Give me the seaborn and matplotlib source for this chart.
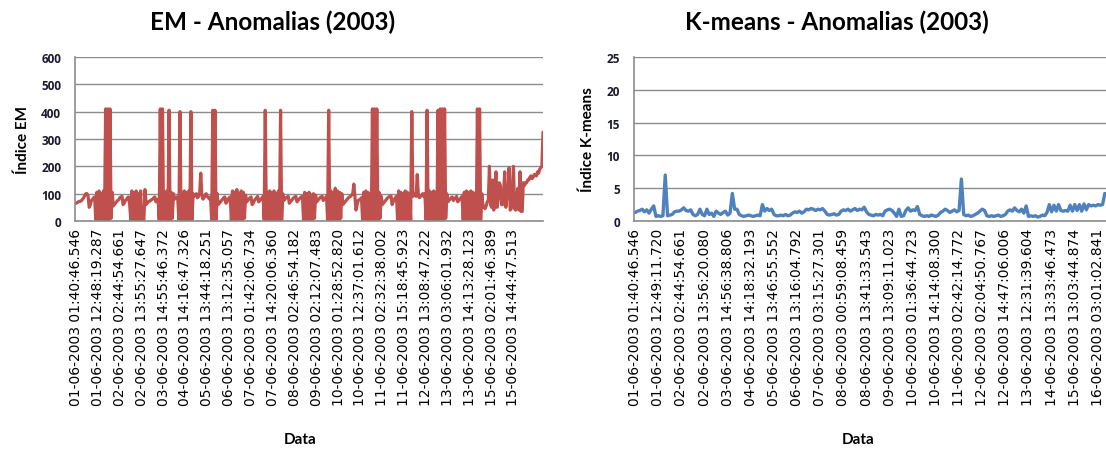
import matplotlib
matplotlib.use("Agg")
import matplotlib.pyplot as plt
import seaborn as sns
import pandas as pd

# ---------------- data ----------------
em_tick_labels = [
    "01-06-2003 01:40:46.546", "01-06-2003 12:48:19.287", "02-06-2003 02:44:54.661",
    "02-06-2003 13:55:27.647", "03-06-2003 14:55:46.372", "04-06-2003 14:16:47.326",
    "05-06-2003 13:44:18.251", "06-06-2003 13:12:35.057", "07-06-2003 01:42:06.734",
    "07-06-2003 14:20:06.360", "08-06-2003 02:46:54.182", "09-06-2003 02:12:07.483",
    "10-06-2003 01:28:52.820", "10-06-2003 12:37:01.612", "11-06-2003 02:32:38.002",
    "11-06-2003 15:18:45.923", "12-06-2003 13:08:47.222", "13-06-2003 03:06:01.932",
    "13-06-2003 14:13:28.123", "15-06-2003 02:01:46.389", "15-06-2003 14:44:47.513",
]
km_tick_labels = [
    "01-06-2003 01:40:46.546", "01-06-2003 12:49:11.720", "02-06-2003 02:44:54.661",
    "02-06-2003 13:56:20.080", "03-06-2003 14:56:38.806", "04-06-2003 14:18:32.193",
    "05-06-2003 13:46:55.552", "06-06-2003 13:16:04.792", "07-06-2003 03:15:27.301",
    "08-06-2003 00:59:08.459", "08-06-2003 13:41:33.543", "09-06-2003 13:09:11.023",
    "10-06-2003 01:36:44.723", "10-06-2003 14:14:08.300", "11-06-2003 02:42:14.772",
    "12-06-2003 02:04:50.767", "12-06-2003 14:47:06.006", "13-06-2003 12:31:39.604",
    "14-06-2003 13:33:46.473", "15-06-2003 13:03:44.874", "16-06-2003 03:01:02.841",
]

em_values = [
    65, 67, 70, 72, 72, 75, 80, 85, 95, 100, 100, 90, 50, 60, 75, 78, 85, 88,
    5, 105, 0, 110, 10, 100, 0, 110, 5, 410, 0, 410, 5, 410, 10, 105,
    55, 60, 65, 70, 75, 78, 85, 88, 90, 60, 65, 75, 78, 85, 88, 60,
    5, 110, 0, 105, 5, 110, 0, 100, 5, 110,
    0, 0, 5, 115, 60, 65,
    70, 72, 75, 78, 80, 85, 88, 70, 75, 80,
    5, 410, 0, 410, 5, 105, 0, 110, 5, 405, 0, 105, 10, 100,
    80, 85, 88, 80,
    5, 400, 0, 105, 5, 110, 0, 105, 5, 110, 0, 400, 5, 100,
    90, 95, 100, 85, 90, 100, 175, 95, 80, 85, 95, 100, 90, 85, 80, 88,
    0, 405, 0, 405, 5, 100,
    60, 65, 70, 75, 80, 85, 88, 65, 70, 80, 85, 88,
    0, 110, 5, 105, 0, 115, 5, 100, 0, 110, 5, 105, 10, 95,
    70, 75, 80, 85, 88, 60, 65, 75, 80, 85, 90, 70, 75, 80, 85, 90,
    5, 405, 0, 105, 5, 110, 0, 105, 5, 110, 0, 100, 5, 110, 0, 405, 5, 100,
    75, 80, 85, 88, 90, 65, 70, 75, 80, 85, 88, 90, 70, 75, 80, 85, 88, 90,
    5, 105, 0, 100, 5, 105, 0, 95, 5, 100, 10, 95,
    70, 75, 80, 85, 88, 90, 75, 80, 85, 90,
    5, 405, 0, 110, 5, 105, 0, 120, 5, 110, 0, 105, 10, 100,
    60, 65, 70, 75, 80, 85, 88, 90, 95, 100, 135, 90, 40, 60, 75, 78, 80, 85,
    5, 105, 0, 110, 5, 105, 0, 100, 5, 410, 0, 410, 5, 410, 0, 105, 10, 90,
    60, 65, 70, 75, 80, 85, 88, 90, 92, 60, 70, 80, 85, 90,
    5, 110, 0, 105, 5, 100, 0, 110, 5, 105, 0, 100, 5, 400,
    90, 95, 100, 90, 170, 95, 85, 90, 95, 100, 90, 100,
    5, 405, 0, 110, 5, 105, 0, 110, 5, 105, 0, 405, 5, 410, 0, 410, 5, 410, 10, 100,
    70, 75, 80, 85, 88, 75, 80, 85, 90, 70, 75, 80, 85, 90,
    5, 105, 0, 110, 5, 105, 0, 110, 5, 105, 0, 100, 5, 410, 0, 410, 5, 100,
    60, 50, 45, 55, 70, 75,
    200, 60, 50, 150, 40, 120, 180, 50, 90, 140, 130, 60, 60, 110, 180, 50, 90, 110,
    195, 40, 45, 120, 200, 45, 40, 90, 120, 40, 180, 35, 35, 140, 130, 140,
    140, 150, 150, 160, 165, 155, 160, 170, 170, 165, 180, 175, 190, 195,
    200, 325,
]

km_values = [
    1.3, 1.5, 1.6, 1.8, 1.4, 1.7, 1.2, 1.8,
    2.3,
    0.7, 0.8, 0.7, 0.8,
    7.0,
    0.8, 0.9, 1.0, 1.4, 1.5,
    1.5, 1.7, 2.0, 1.6, 1.5, 1.7,
    1.0, 0.8, 1.0,
    1.8,
    1.0, 0.8,
    1.8,
    1.0, 1.2, 0.7, 1.5, 1.2, 1.0, 1.3,
    1.5,
    0.9, 1.2,
    4.2,
    1.8, 1.8, 1.0,
    0.8, 0.7, 0.8, 0.9, 0.8, 0.7, 0.8, 0.9, 0.8,
    2.5,
    1.5, 1.9, 1.6, 1.8,
    1.0, 0.8, 0.8, 0.9, 0.8, 1.0, 0.8, 0.9,
    1.2, 1.4, 1.3, 1.5, 1.2, 1.4,
    1.8, 1.7, 1.9, 1.8, 1.6, 1.8, 1.7, 1.9, 1.5,
    1.0, 0.9, 1.0, 1.1, 0.9, 1.0,
    1.5, 1.7, 1.6, 1.8, 1.5, 1.7, 1.9, 1.6, 1.8, 1.7,
    2.1,
    1.4,
    1.0, 0.9, 0.8, 1.0, 0.9, 1.0, 0.8,
    1.5, 1.7, 1.8, 1.6, 1.2,
    0.7, 1.8, 0.7, 0.8,
    1.6, 2.0, 1.5, 1.7, 1.6, 2.2,
    1.0, 0.8, 0.7, 0.8, 0.7, 0.9, 0.8, 0.7, 0.9,
    1.3, 1.5, 1.8, 1.6, 1.3, 1.5, 1.7, 1.4, 1.6,
    6.4,
    1.0, 0.8, 0.9, 0.7, 0.8, 1.0, 1.2,
    1.5, 1.8, 1.6,
    0.8, 0.7, 0.8, 0.7, 0.8, 0.9, 0.7, 0.8, 1.0,
    1.5, 1.7, 1.5, 2.0, 1.6, 1.4, 1.8, 1.2,
    2.3,
    0.7, 0.8, 0.7, 0.8, 0.6, 0.7, 0.9, 0.8,
    1.3, 2.5, 1.4, 2.4, 1.5, 2.5, 1.6,
    1.5, 1.6, 1.5,
    2.4, 1.5, 2.5, 1.6, 2.5, 1.5, 2.6, 1.7, 2.5,
    2.3, 2.4, 2.3, 2.5, 2.4, 2.5,
    4.2,
]

em_yticks = [0, 100, 200, 300, 400, 500, 600]
km_yticks = [0, 5, 10, 15, 20, 25]
em_label_step = 20
km_label_step = 10

# ---------------- plotting ----------------
sns.set_theme(style="white")
plt.rcParams["font.family"] = ["DejaVu Sans"]

W, H = 1106, 452
fig = plt.figure(figsize=(W / 100, H / 100), dpi=100)

RED = "#C0504D"
BLUE = "#4F81BD"
GRID = "#8C8C8C"
TXT = "#1a1a2e"


def make_panel(rect, values, tick_labels, yticks, color, ylabel, step, lw, pad_pts):
    ax = fig.add_axes(rect)
    df = pd.DataFrame({"idx": range(len(values)), "val": values})
    sns.lineplot(data=df, x="idx", y="val", ax=ax, color=color, linewidth=lw,
                 estimator=None, solid_joinstyle="round")
    ax.set_xlim(-pad_pts, len(values) - pad_pts)
    ax.set_ylim(yticks[0], yticks[-1])
    ax.set_yticks(yticks)
    ax.set_yticklabels([str(t) for t in yticks], fontsize=8.5, fontweight="bold",
                       color=TXT, family="Open Sans")
    pos = list(range(0, step * len(tick_labels), step))
    ax.set_xticks(pos)
    ax.set_xticklabels(tick_labels, rotation=90, fontsize=10, color="black")
    ax.tick_params(axis="x", length=0, pad=5)
    ax.tick_params(axis="y", length=4, width=1, color=GRID, pad=6, direction="out")
    ax.yaxis.grid(True, color=GRID, linewidth=1.0)
    ax.xaxis.grid(False)
    ax.set_axisbelow(True)
    for s in ["top", "right"]:
        ax.spines[s].set_visible(False)
    for s in ["left", "bottom"]:
        ax.spines[s].set_color(GRID)
        ax.spines[s].set_linewidth(1.2)
    ax.set_xlabel("")
    ax.set_ylabel(ylabel, fontsize=11, fontweight="bold", family="Lato", color="black",
                  labelpad=8)
    return ax


def frac_rect(x0, x1, ytop, ybot):
    return [x0 / W, 1 - ybot / H, (x1 - x0) / W, (ybot - ytop) / H]


ax1 = make_panel(frac_rect(75, 543, 58, 222), em_values, em_tick_labels,
                 em_yticks, RED, "Índice EM", em_label_step, 2.3, 1.0)
ax2 = make_panel(frac_rect(634, 1106, 58, 222), km_values, km_tick_labels,
                 km_yticks, BLUE, "Índice K-means", km_label_step, 2.4, 0.5)

fig.text(273 / W, 1 - 22 / H, "EM - Anomalias (2003)", ha="center", va="center",
         fontsize=17.5, fontweight="bold", family="Lato", color="black")
fig.text(837 / W, 1 - 22 / H, "K-means - Anomalias (2003)", ha="center", va="center",
         fontsize=17.5, fontweight="bold", family="Lato", color="black")
fig.text(300 / W, 1 - 440 / H, "Data", ha="center", va="center",
         fontsize=11, fontweight="bold", family="Lato", color="black")
fig.text(858 / W, 1 - 440 / H, "Data", ha="center", va="center",
         fontsize=11, fontweight="bold", family="Lato", color="black")

fig.savefig("out.png", dpi=100, facecolor="white")
